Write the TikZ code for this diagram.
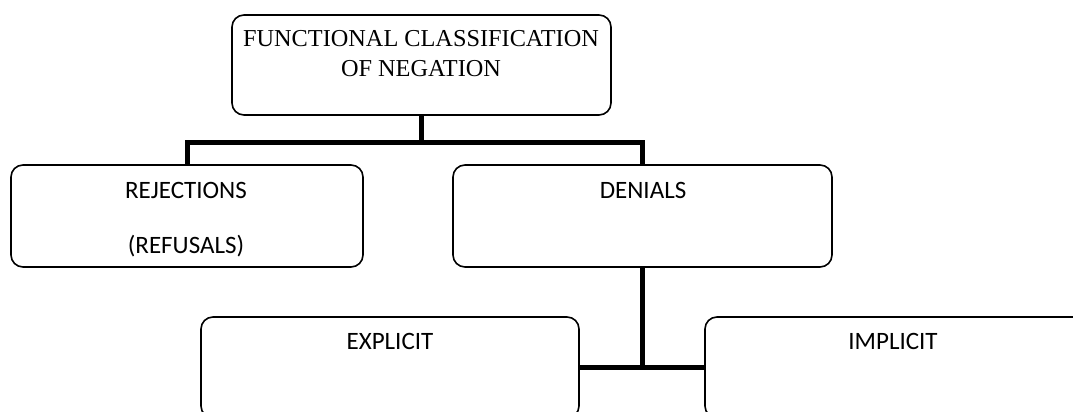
\documentclass[tikz,border=0pt]{standalone}
\usepackage{fontspec}
\setmainfont{Liberation Serif}
\newfontfamily\calibri{Carlito}
\tikzset{boite/.style={draw,line width=1.6pt,rounded corners=12pt,inner sep=0pt},
    lien/.style={line width=5pt,line join=miter},
    etiquette/.style={font=\calibri\fontsize{25}{30}\selectfont,align=center,inner sep=0pt}
}

\begin{document}
\begin{tikzpicture}[x=1pt,y=-1pt]
    \useasboundingbox (0,0) rectangle (1073,412);

    % Dessine les boites
    \node[boite,minimum width=379pt,minimum height=100pt] (racine) at (421.5,65) {};
    \node[boite,minimum width=352pt,minimum height=102pt] (rejet) at (187,216) {};
    \node[boite,minimum width=379pt,minimum height=102pt] (deni) at (642.5,216) {};
    \node[boite,minimum width=378pt,minimum height=101pt] (explicite) at (390,367.5) {};
    \node[boite,minimum width=380pt,minimum height=101pt] (implicite) at (895,367.5) {};

    % Dessine les textes
    \node[font=\fontsize{24.3}{30}\selectfont,align=center,inner sep=0pt] (racineTxt) at (421,54) {FUNCTIONAL CLASSIFICATION\\OF NEGATION};
    \node[etiquette] (rejetTxt) at (186,220) {REJECTIONS\\[25pt](REFUSALS)};
    \node[etiquette] (deniTxt) at (643,190) {DENIALS};
    \node[etiquette] (expliciteTxt) at (390,341) {EXPLICIT};
    \node[etiquette] (impliciteTxt) at (893,341) {IMPLICIT};

    % Dessine les liens
    \coordinate (barre) at (0,142);
    \draw[lien] (racine.south) -- (racine.south |- barre);
    \draw[lien] (rejet.north) |- (barre -| deni.north) -- (deni.north);
    \draw[lien] (deni.south) -- (deni.south |- explicite.east);
    \draw[lien] (explicite.east) -- (implicite.west);
\end{tikzpicture}
\end{document}
